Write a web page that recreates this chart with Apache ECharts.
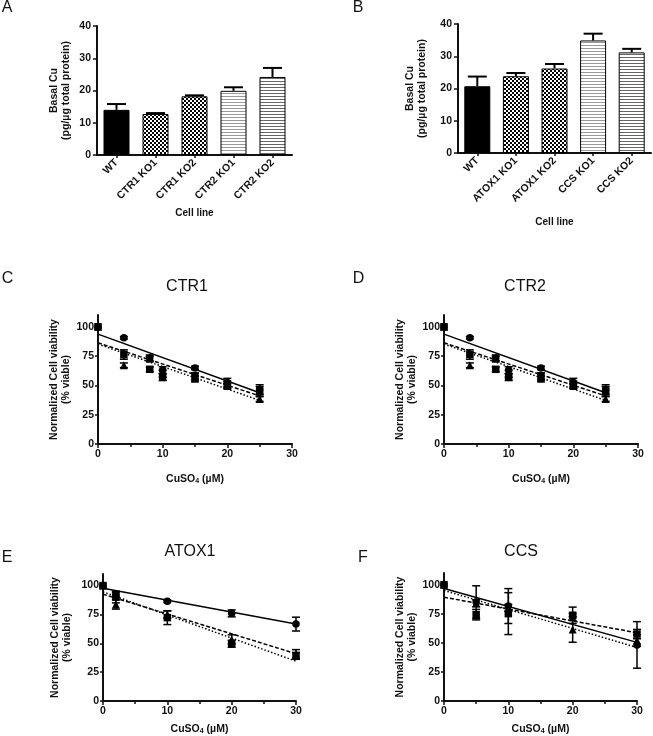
<!DOCTYPE html>
<html><head><meta charset="utf-8">
<script src="https://cdn.jsdelivr.net/npm/echarts@6/dist/echarts.min.js"></script>
<style>html,body{margin:0;padding:0;background:#fff}#c{width:653px;height:736px}</style>
</head><body><div id="c"></div>
<script>
// ---------- DATA ----------
const aCategories = ['WT', 'CTR1 KO1', 'CTR1 KO2', 'CTR2 KO1', 'CTR2 KO2'];
const aValues = [14.0, 12.7, 18.2, 19.9, 24.2];
const aErrors = [1.8, 0.3, 0.3, 1.1, 2.8];
const bCategories = ['WT', 'ATOX1 KO1', 'ATOX1 KO2', 'CCS KO1', 'CCS KO2'];
const bValues = [20.7, 23.8, 26.2, 34.9, 31.2];
const bErrors = [3.0, 1.0, 1.4, 2.1, 1.1];
const barYTicks = [0, 10, 20, 30, 40];

const cX = [0, 4, 8, 10, 15, 20, 25];
const cCircle = [100, 90.6, 73.4, 62.9, 64.9, 52.5, 46.5];
const cCircleErr = [0, 1, 2.5, 3, 1.5, 3.5, 4];
const cSquare = [100, 76.3, 63.7, 57.1, 57.7, 50.5, 45.0];
const cSquareErr = [0, 4, 2, 3, 3, 3, 4];
const cTriangle = [100, 67.1, 72.8, 60.0, 55.7, 49.4, 38.3];
const cTriangleErr = [0, 2, 2, 3, 2, 2, 2];
const cFitX = [0, 25];
const cFitSolid = [93.7, 43.7];
const cFitDashed = [86.3, 41.0];
const cFitDotted = [85.2, 37.2];

const dX = [0, 4, 8, 10, 15, 20, 25];
const dCircle = [100, 90.6, 73.4, 62.9, 64.9, 52.5, 46.5];
const dCircleErr = [0, 1, 2.5, 3, 1.5, 3.5, 4];
const dSquare = [100, 76.3, 63.7, 57.1, 57.7, 50.5, 45.0];
const dSquareErr = [0, 4, 2, 3, 3, 3, 4];
const dTriangle = [100, 67.1, 72.8, 60.0, 55.7, 49.4, 38.3];
const dTriangleErr = [0, 2, 2, 3, 2, 2, 2];
const dFitX = [0, 25];
const dFitSolid = [93.7, 43.7];
const dFitDashed = [86.3, 41.0];
const dFitDotted = [85.2, 37.2];

const eX = [0, 2, 10, 20, 30];
const eCircle = [100, 92, 86.4, 75.9, 66.6];
const eCircleErr = [0, 2, 1, 3, 6];
const eSquare = [100, 90, 72.2, 49.6, 39.1];
const eSquareErr = [0, 5, 6, 3, 3];
const eTriangle = [100, 83.6, 75, 53.3, 40.5];
const eTriangleErr = [0, 4, 3, 4, 4];
const eFitX = [0, 30];
const eFitSolid = [97.7, 66.6];
const eFitDashed = [92.5, 41.0];
const eFitDotted = [94.5, 34.5];

const fX = [0, 5, 10, 20, 30];
const fCircle = [100, 85, 81.6, 72.2, 48.2];
const fCircleErr = [0, 14, 15, 3, 20];
const fSquare = [100, 74.2, 75.1, 73.7, 57.5];
const fSquareErr = [0, 4.5, 18, 7, 4];
const fTriangle = [100, 84, 80, 61.5, 52];
const fTriangleErr = [0, 3, 3, 11, 5];
const fFitX = [0, 30];
const fFitSolid = [96.6, 50.4];
const fFitDashed = [89.2, 58.6];
const fFitDotted = [95.0, 46.0];

const viabilityTicks = [0, 25, 50, 75, 100];
const panelTitles = ['CTR1', 'CTR2', 'ATOX1', 'CCS'];
const panelLetters = ['A', 'B', 'C', 'D', 'E', 'F'];

// ---------- STYLE ----------
const FONT = '"Liberation Sans", Arial, sans-serif';
const INK = '#111';

function checker() {
  const c = document.createElement('canvas'); c.width = 4; c.height = 4;
  const g = c.getContext('2d');
  g.fillStyle = '#fff'; g.fillRect(0, 0, 4, 4);
  g.fillStyle = '#000'; g.fillRect(0, 0, 2, 2); g.fillRect(2, 2, 2, 2);
  return c;
}
function stripes(col) {
  const c = document.createElement('canvas'); c.width = 3; c.height = 3;
  const g = c.getContext('2d');
  g.fillStyle = '#fff'; g.fillRect(0, 0, 3, 3);
  g.fillStyle = col; g.fillRect(0, 0, 3, 1);
  return c;
}
const barFills = [
  '#000',
  { image: checker(), repeat: 'repeat' },
  { image: checker(), repeat: 'repeat' },
  { image: stripes('#9a9a9a'), repeat: 'repeat' },
  { image: stripes('#666'), repeat: 'repeat' }
];

const grids = [
  { left: 97, top: 26, width: 195, height: 129 },
  { left: 458, top: 24, width: 193, height: 129 },
  { left: 98, top: 315, width: 194, height: 129 },
  { left: 444, top: 315, width: 194, height: 129 },
  { left: 103, top: 574, width: 193, height: 129 },
  { left: 444, top: 573, width: 193, height: 129 }
];

const axisLine = { show: true, onZero: false, lineStyle: { color: INK, width: 2 } };
const labelStyle = { color: INK, fontFamily: FONT, fontWeight: 'bold', fontSize: 10.5 };

function barX(i, cats, gap) {
  return {
    type: 'category', gridIndex: i, data: cats, boundaryGap: true,
    axisLine: axisLine,
    axisTick: { show: true, alignWithLabel: true, length: 3, lineStyle: { color: INK, width: 1.5 } },
    axisLabel: Object.assign({ rotate: 45, margin: 6, interval: 0 }, labelStyle, { fontSize: 10.5 }),
    name: 'Cell line', nameLocation: 'middle', nameGap: gap,
    nameTextStyle: { color: INK, fontFamily: FONT, fontWeight: 'bold', fontSize: 10 },
    splitLine: { show: false }
  };
}
function barY(i, gap) {
  return {
    type: 'value', gridIndex: i, min: 0, max: 40, interval: 10,
    axisLine: axisLine,
    axisTick: { show: true, length: 4, lineStyle: { color: INK, width: 1.5 } },
    axisLabel: Object.assign({ margin: 6 }, labelStyle),
    splitLine: { show: false },
    name: 'Basal Cu\n(pg/µg total protein)', nameLocation: 'middle', nameRotate: 90, nameGap: gap,
    nameTextStyle: { color: INK, fontFamily: FONT, fontWeight: 'bold', fontSize: 10.5, lineHeight: 12 }
  };
}
function cuX(i, gap) {
  return {
    type: 'value', gridIndex: i, min: 0, max: 30, interval: 10,
    axisLine: axisLine,
    axisTick: { show: true, length: 4, lineStyle: { color: INK, width: 1.5 } },
    minorTick: { show: true, splitNumber: 2, length: 3, lineStyle: { color: INK, width: 1.5 } },
    axisLabel: Object.assign({ margin: 5 }, labelStyle),
    splitLine: { show: false },
    name: '{a|CuSO}{s|4}{a| (µM)}', nameLocation: 'middle', nameGap: gap,
    nameTextStyle: {
      color: INK,
      rich: {
        a: { fontFamily: FONT, fontWeight: 'bold', fontSize: 10.5, color: INK, lineHeight: 13, verticalAlign: 'bottom' },
        s: { fontFamily: FONT, fontWeight: 'bold', fontSize: 7, color: INK, lineHeight: 9, verticalAlign: 'bottom' }
      }
    }
  };
}
function viaY(i, gap) {
  return {
    type: 'value', gridIndex: i, min: 0, max: 110,
    axisLine: axisLine,
    axisTick: { show: true, length: 3, customValues: viabilityTicks, lineStyle: { color: INK, width: 1.5 } },
    axisLabel: Object.assign({ margin: 4, customValues: viabilityTicks }, labelStyle),
    splitLine: { show: false },
    name: 'Normalized Cell viability\n(% viable)', nameLocation: 'middle', nameRotate: 90, nameGap: gap,
    nameTextStyle: { color: INK, fontFamily: FONT, fontWeight: 'bold', fontSize: 10.5, lineHeight: 12 }
  };
}

function barSeries(i, vals) {
  return {
    type: 'bar', xAxisIndex: i, yAxisIndex: i, barWidth: 26, z: 2,
    data: vals.map((v, k) => ({ value: v, itemStyle: { color: barFills[k], borderColor: '#000', borderWidth: 1 } })),
    silent: true, animation: false
  };
}
function barErrSeries(i, vals, errs) {
  return {
    type: 'custom', xAxisIndex: i, yAxisIndex: i, z: 5, animation: false, silent: true,
    data: vals.map((v, k) => [k, v, errs[k]]),
    renderItem: function (params, api) {
      const base = api.coord([api.value(0), api.value(1)]);
      const top = api.coord([api.value(0), api.value(1) + api.value(2)]);
      const st = { stroke: '#000', lineWidth: 2 };
      return { type: 'group', children: [
        { type: 'line', shape: { x1: base[0], y1: base[1], x2: top[0], y2: top[1] }, style: st },
        { type: 'line', shape: { x1: top[0] - 9.5, y1: top[1], x2: top[0] + 9.5, y2: top[1] }, style: st }
      ] };
    }
  };
}
function ptErrSeries(i, xs, ys, es) {
  const d = [];
  xs.forEach((x, k) => { if (es[k] > 0) d.push([x, ys[k], es[k]]); });
  return {
    type: 'custom', xAxisIndex: i, yAxisIndex: i, z: 3, animation: false, silent: true,
    data: d,
    renderItem: function (params, api) {
      const x = api.value(0), y = api.value(1), e = api.value(2);
      const t = api.coord([x, y + e]), b = api.coord([x, y - e]);
      const st = { stroke: '#000', lineWidth: 1.5 };
      return { type: 'group', children: [
        { type: 'line', shape: { x1: t[0], y1: t[1], x2: b[0], y2: b[1] }, style: st },
        { type: 'line', shape: { x1: t[0] - 4, y1: t[1], x2: t[0] + 4, y2: t[1] }, style: st },
        { type: 'line', shape: { x1: b[0] - 4, y1: b[1], x2: b[0] + 4, y2: b[1] }, style: st }
      ] };
    }
  };
}
function ptSeries(i, xs, ys, sym, size) {
  return {
    type: 'scatter', xAxisIndex: i, yAxisIndex: i, symbol: sym, symbolSize: size, z: 4,
    itemStyle: { color: '#000', opacity: 1 }, animation: false, silent: true,
    data: xs.map((x, k) => [x, ys[k]])
  };
}
function fitSeries(i, xs, ys, type) {
  return {
    type: 'line', xAxisIndex: i, yAxisIndex: i, showSymbol: false, symbol: 'none', z: 3,
    lineStyle: { color: '#000', width: 1.5, type: type }, animation: false, silent: true,
    data: xs.map((x, k) => [x, ys[k]])
  };
}
function panelSeries(i, X, C, Ce, S, Se, T, Te, FX, F1, F2, F3) {
  return [
    ptErrSeries(i, X, C, Ce), ptErrSeries(i, X, T, Te), ptErrSeries(i, X, S, Se),
    fitSeries(i, FX, F1, 'solid'), fitSeries(i, FX, F2, [4, 2]), fitSeries(i, FX, F3, [1.5, 2]),
    ptSeries(i, X, C, 'circle', 7.5), ptSeries(i, X, T, 'triangle', 8), ptSeries(i, X, S, 'rect', 7.5)
  ];
}

const letterPos = [[7, 8], [358, 8], [7.5, 279], [358.5, 279], [7, 558], [363, 558]];
const titlePos = [[187, 287], [525, 287], [190, 551.5], [521, 551.5]];
const graphics = [];
panelLetters.forEach((t, k) => graphics.push({ type: 'text', x: letterPos[k][0], y: letterPos[k][1],
  style: { text: t, font: '16px ' + FONT, fill: INK, textAlign: 'center', textVerticalAlign: 'middle' } }));
panelTitles.forEach((t, k) => graphics.push({ type: 'text', x: titlePos[k][0], y: titlePos[k][1],
  style: { text: t, font: '16px ' + FONT, fill: INK, textAlign: 'center', textVerticalAlign: 'middle' } }));

const option = {
  backgroundColor: '#fff',
  animation: false,
  grid: grids,
  xAxis: [barX(0, aCategories, 53), barX(1, bCategories, 64), cuX(2, 28), cuX(3, 28), cuX(4, 21), cuX(5, 21)],
  yAxis: [barY(0, 25), barY(1, 30), viaY(2, 26), viaY(3, 24), viaY(4, 30), viaY(5, 26)],
  graphic: graphics,
  series: [].concat(
    [barSeries(0, aValues), barErrSeries(0, aValues, aErrors), barSeries(1, bValues), barErrSeries(1, bValues, bErrors)],
    panelSeries(2, cX, cCircle, cCircleErr, cSquare, cSquareErr, cTriangle, cTriangleErr, cFitX, cFitSolid, cFitDashed, cFitDotted),
    panelSeries(3, dX, dCircle, dCircleErr, dSquare, dSquareErr, dTriangle, dTriangleErr, dFitX, dFitSolid, dFitDashed, dFitDotted),
    panelSeries(4, eX, eCircle, eCircleErr, eSquare, eSquareErr, eTriangle, eTriangleErr, eFitX, eFitSolid, eFitDashed, eFitDotted),
    panelSeries(5, fX, fCircle, fCircleErr, fSquare, fSquareErr, fTriangle, fTriangleErr, fFitX, fFitSolid, fFitDashed, fFitDotted)
  )
};
const chart = echarts.init(document.getElementById('c'), null, { renderer: 'canvas', width: 653, height: 736 });
chart.setOption(option);
</script>
</body></html>
